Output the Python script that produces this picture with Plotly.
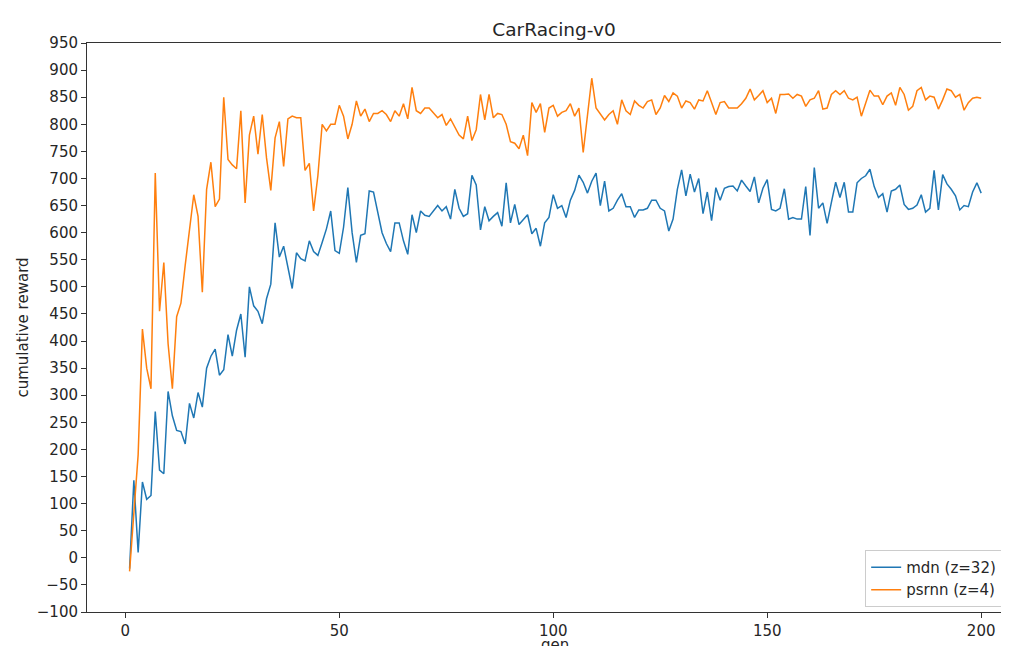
import plotly.graph_objects as go

gens = list(range(1, 201))

mdn = [
    -20, 143, 10, 140, 108, 115, 270, 162, 155, 307,
    262, 235, 233, 210, 285, 258, 305, 278, 350, 372,
    385, 337, 347, 412, 372, 420, 450, 370, 500, 465,
    455, 432, 478, 505, 618, 555, 575, 535, 497, 563,
    552, 548, 585, 565, 558, 582, 607, 640, 567, 562,
    610, 683, 600, 545, 595, 598, 677, 675, 640, 600,
    580, 565, 618, 618, 585, 560, 633, 600, 640, 632,
    630, 640, 650, 640, 648, 625, 680, 645, 630, 635,
    706, 688, 605, 648, 622, 630, 637, 612, 692, 618,
    652, 615, 625, 633, 598, 608, 575, 618, 628, 670,
    645, 650, 628, 660, 678, 706, 693, 673, 695, 710,
    650, 695, 640, 645, 660, 672, 648, 648, 628, 642,
    642, 645, 660, 660, 645, 640, 603, 625, 680, 716,
    668, 708, 675, 700, 635, 675, 622, 683, 660, 682,
    685, 686, 677, 697, 686, 676, 703, 655, 682, 698,
    643, 640, 645, 681, 625, 628, 625, 625, 685, 595,
    720, 645, 655, 617, 656, 693, 665, 693, 638, 638,
    692, 700, 705, 717, 685, 665, 672, 638, 677, 680,
    688, 652, 643, 645, 651, 670, 638, 645, 715, 642,
    707, 690, 680, 668, 642, 650, 648, 675, 692, 673,
]

psrnn = [
    -25, 90, 190, 422, 350, 312, 710, 455, 545, 395,
    312, 445, 470, 540, 605, 670, 630, 490, 680, 730,
    648, 662, 850, 735, 725, 718, 825, 655, 780, 815,
    745, 818, 738, 678, 775, 805, 722, 810, 815, 812,
    812, 715, 728, 640, 705, 800, 788, 800, 800, 835,
    815, 773, 800, 843, 815, 828, 805, 820, 820, 825,
    818, 805, 825, 815, 838, 810, 868, 825, 820, 830,
    830, 820, 812, 818, 798, 810, 795, 780, 773, 815,
    770, 790, 855, 808, 855, 812, 820, 818, 800, 768,
    765, 755, 780, 742, 840, 822, 838, 785, 830, 835,
    815, 822, 825, 838, 815, 830, 748, 820, 885, 830,
    820, 808, 818, 825, 800, 845, 825, 818, 843, 835,
    830, 842, 845, 818, 830, 853, 842, 858, 852, 830,
    843, 840, 828, 845, 843, 862, 840, 818, 840, 842,
    830, 830, 830, 838, 848, 865, 845, 853, 862, 840,
    848, 820, 855, 855, 856, 848, 855, 852, 833, 845,
    848, 862, 828, 830, 855, 862, 855, 862, 848, 845,
    850, 815, 838, 863, 852, 852, 836, 852, 858, 835,
    868, 855, 826, 833, 862, 868, 845, 852, 850, 828,
    845, 865, 862, 850, 855, 826, 840, 848, 850, 848,
]

y_ticks = list(range(-100, 951, 50))
x_ticks = [0, 50, 100, 150, 200]

font = "DejaVu Sans, sans-serif"

# page body has an 8px margin, so the figure is sized/positioned to compensate
W, H = 1001, 638

fig = go.Figure()
fig.add_trace(go.Scatter(x=gens, y=mdn, mode="lines", name="mdn (z=32)",
                         line=dict(color="#1f77b4", width=1.5)))
fig.add_trace(go.Scatter(x=gens, y=psrnn, mode="lines", name="psrnn (z=4)",
                         line=dict(color="#ff7f0e", width=1.5)))

fig.update_layout(
    width=W, height=H,
    margin=dict(l=79, r=0, t=35, b=34, autoexpand=False),
    paper_bgcolor="white", plot_bgcolor="white",
    font=dict(family=font, size=15, color="#262626"),
    title=dict(text="CarRacing-v0", x=546 / W, xanchor="center",
               y=1 - 22 / H, yanchor="middle",
               font=dict(size=18.5, family=font, color="#262626")),
    showlegend=True,
    legend=dict(x=0.844, xanchor="left", y=0.009, yanchor="bottom",
                bgcolor="rgba(255,255,255,0.8)", bordercolor="#cccccc", borderwidth=1,
                font=dict(size=15, family=font), itemwidth=30,
                tracegroupgap=2),
    xaxis=dict(range=[-8.95, 206.5], tickvals=x_ticks, ticks="outside", ticklen=5,
               tickcolor="#333333", automargin=False,
               showgrid=False, zeroline=False, showline=True, linecolor="#333333",
               linewidth=1, mirror=True,
               tickfont=dict(size=15)),
    yaxis=dict(range=[-100, 950], tickvals=y_ticks, ticks="outside", ticklen=5,
               tickcolor="#333333", automargin=False,
               showgrid=False, zeroline=False, showline=True, linecolor="#333333",
               linewidth=1, mirror=True,
               title=dict(text="cumulative reward", standoff=4, font=dict(size=15)),
               tickfont=dict(size=15)),
    annotations=[dict(text="gen", xref="paper", yref="paper", x=0.5076, y=-0.0387,
                      xanchor="center", yanchor="top", showarrow=False,
                      font=dict(size=15, family=font, color="#262626"))],
)

fig.write_html("out.html")
